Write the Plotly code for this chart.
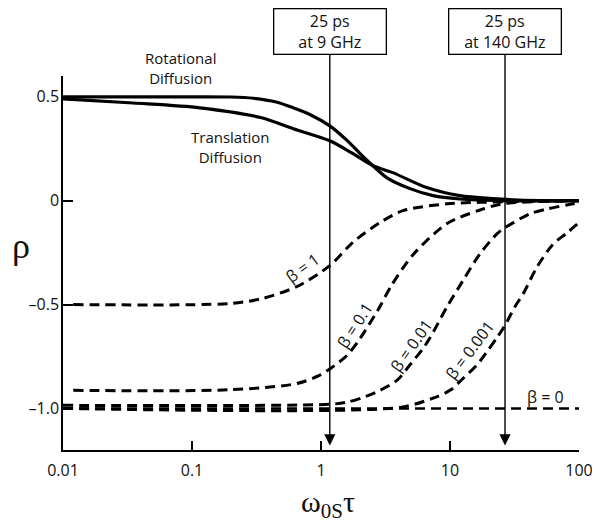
import math
import plotly.graph_objects as go

# ---- data ----
rot_x = [0.01, 0.1, 0.2, 0.3, 0.45, 0.61, 0.82, 1.17, 1.59, 2.0, 2.53, 3.25, 4.9, 7.4, 11.9, 24.4, 100]
rot_y = [0.5, 0.5, 0.499, 0.493, 0.475, 0.447, 0.415, 0.36, 0.29, 0.228, 0.168, 0.11, 0.058, 0.024, 0.008, 0.0, 0.0]

tra_x = [0.01, 0.035, 0.115, 0.34, 0.61, 1.17, 1.77, 2.53, 3.6, 6.6, 11.9, 21.5, 50, 100]
tra_y = [0.49, 0.47, 0.447, 0.40, 0.346, 0.288, 0.226, 0.168, 0.135, 0.063, 0.024, 0.01, 0.0, 0.0]

b1_x = [0.012, 0.197, 0.355, 0.652, 1.17, 1.77, 2.86, 4.32, 9.5, 17.1, 100]
b1_y = [-0.5, -0.495, -0.47, -0.413, -0.313, -0.20, -0.106, -0.048, -0.015, -0.008, 0.0]

b01_x = [0.012, 0.197, 0.652, 0.98, 1.17, 1.59, 2.0, 2.86, 3.5, 5.17, 9.5, 17.1, 25.8, 100]
b01_y = [-0.913, -0.91, -0.88, -0.84, -0.81, -0.745, -0.665, -0.51, -0.41, -0.26, -0.11, -0.045, -0.015, 0.0]

b001_x = [0.01, 1.17, 1.59, 2.12, 2.86, 3.88, 4.9, 6.2, 7.0, 9.5, 12.6, 17.1, 23.1, 26.7, 41.7, 56.5, 89.7, 100]
b001_y = [-0.985, -0.98, -0.97, -0.947, -0.913, -0.865, -0.79, -0.71, -0.66, -0.51, -0.385, -0.255, -0.16, -0.13, -0.063, -0.04, -0.015, -0.01]

b0001_x = [0.01, 4.1, 7.4, 10, 12.6, 16.2, 19.7, 23.1, 26.7, 31.9, 36.8, 47.2, 62.8, 80.7, 100]
b0001_y = [-1.0, -0.995, -0.95, -0.913, -0.856, -0.79, -0.72, -0.66, -0.60, -0.51, -0.45, -0.32, -0.21, -0.155, -0.105]

b0_x = [0.01, 100]
b0_y = [-1.0, -1.0]

x_tick_vals = [0.01, 0.1, 1, 10, 100]
x_tick_text = ["0.01", "0.1", "1", "10", "100"]
y_tick_vals = [-1.0, -0.5, 0, 0.5]
y_tick_text = ["\u20131.0", "\u20130.5", "0", "0.5"]

marker_x = [1.17, 26.7]
marker_text = ["25 ps<br>at 9 GHz", "25 ps<br>at 140 GHz"]

beta_labels = ["\u03b2 = 1", "\u03b2 = 0.1", "\u03b2 = 0.01", "\u03b2 = 0.001", "\u03b2 = 0"]

FONT = "Open Sans"
SERIF = "Liberation Serif"

# page body has an 8px margin; compensate so the plot lands where the reference has it
OFF = 8
W, H = 600 - OFF, 528 - OFF
L, R, T, B = 63 - OFF, 21, 76 - OFF, 78
pw, ph = W - L - R, H - T - B


def px_to_paper(px, py):
    return (px - OFF - L) / pw, 1 - (py - OFF - T) / ph


fig = go.Figure()

dash_style = dict(color="black", width=3, dash="10px,6px", shape="spline", smoothing=0.8)
for xs, ys in [(b1_x, b1_y), (b01_x, b01_y), (b001_x, b001_y), (b0001_x, b0001_y)]:
    fig.add_trace(go.Scatter(x=xs, y=ys, mode="lines", line=dash_style, showlegend=False, hoverinfo="skip"))
fig.add_trace(go.Scatter(x=b0_x, y=b0_y, mode="lines",
                         line=dict(color="black", width=2.5, dash="10px,6px"),
                         showlegend=False, hoverinfo="skip"))

solid = dict(color="black", width=3.2, shape="spline", smoothing=0.8)
fig.add_trace(go.Scatter(x=rot_x, y=rot_y, mode="lines", line=solid, showlegend=False, hoverinfo="skip"))
fig.add_trace(go.Scatter(x=tra_x, y=tra_y, mode="lines", line=solid, showlegend=False, hoverinfo="skip"))

annotations = []
# boxes with arrows
for mx, mt in zip(marker_x, marker_text):
    annotations.append(dict(
        x=math.log10(mx), y=-1.178, xref="x", yref="y", text=mt, showarrow=True,
        ax=0, ay=-414,
        arrowhead=2, arrowsize=1.6, arrowwidth=1.4, arrowcolor="black",
        bordercolor="black", borderwidth=1.3, borderpad=3, bgcolor="white",
        width=105, height=38, font=dict(family=FONT, size=16, color="#111"),
        align="center"))

# curve labels
rx, ry = px_to_paper(180, 68)
annotations.append(dict(x=-1.093, y=ry, xref="x", yref="paper", text="Rotational<br>Diffusion",
                        xanchor="center", yanchor="middle",
                        showarrow=False, font=dict(family=FONT, size=15, color="#111")))
annotations.append(dict(x=-0.705, y=0.26, xref="x", yref="y", text="Translation<br>Diffusion",
                        xanchor="center", yanchor="middle",
                        showarrow=False, font=dict(family=FONT, size=15, color="#111")))

beta_pos = [(-0.147, -0.322, -36), (0.264, -0.60, -57), (0.705, -0.697, -55), (1.155, -0.72, -53), (1.744, -0.945, 0)]
for lab, (bx, by, ang) in zip(beta_labels, beta_pos):
    annotations.append(dict(x=bx, y=by, xref="x", yref="y", text=lab, textangle=ang,
                            xanchor="center", yanchor="middle",
                            showarrow=False, font=dict(family=FONT, size=16, color="#111")))

# axis titles
ax_, ay_ = px_to_paper(21, 246)
annotations.append(dict(x=ax_, y=ay_, xref="paper", yref="paper", text="\u03c1", showarrow=False,
                        xanchor="center", yanchor="middle",
                        font=dict(family=SERIF, size=36, color="#111")))
bx_, by_ = px_to_paper(328, 504)
annotations.append(dict(x=bx_, y=by_, xref="paper", yref="paper",
                        text="\u03c9<sub>0S</sub>\u03c4", showarrow=False,
                        xanchor="center", yanchor="middle",
                        font=dict(family=SERIF, size=30, color="#111")))

fig.update_layout(
    width=W, height=H,
    margin=dict(l=L, r=R, t=T, b=B, autoexpand=False),
    paper_bgcolor="white", plot_bgcolor="white",
    annotations=annotations,
    xaxis=dict(type="log", range=[-2, 2], tickvals=x_tick_vals, ticktext=x_tick_text,
               showline=True, linecolor="black", linewidth=1.5, ticks="inside", ticklen=9,
               tickwidth=1.5, tickcolor="black", showgrid=False, zeroline=False,
               tickfont=dict(family=FONT, size=16, color="#111"), ticklabelstandoff=5),
    yaxis=dict(range=[-1.2, 0.6], tickvals=y_tick_vals, ticktext=y_tick_text,
               showline=True, linecolor="black", linewidth=1.5, ticks="inside", ticklen=10,
               tickwidth=1.5, tickcolor="black", showgrid=False, zeroline=False,
               tickfont=dict(family=FONT, size=16, color="#111"), ticklabelstandoff=-1),
)

fig.write_html("out.html")
